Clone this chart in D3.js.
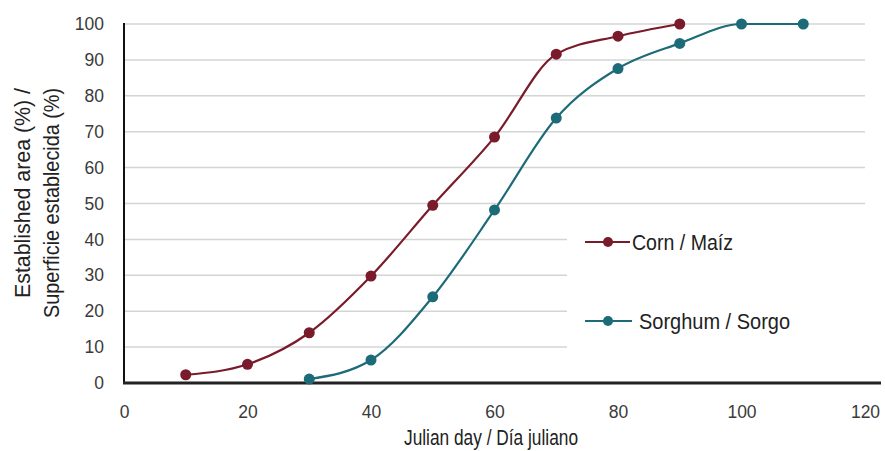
<!DOCTYPE html>
<html>
<head>
<meta charset="utf-8">
<script src="https://cdn.jsdelivr.net/npm/d3@7"></script>
<style>
  body { margin: 0; background: #fff; }
  .tick text { font-family: "Liberation Sans", Arial, sans-serif; font-size: 17.5px; fill: #3a3a3a; }
  .title { font-family: "Liberation Sans", sans-serif; font-size: 22px; fill: #222; }
</style>
</head>
<body>
<svg id="chart"></svg>
<script>
    // data
    var cornDays = [10, 20, 30, 40, 50, 60, 70, 80, 90];
    var cornPct = [2.3, 5.2, 14, 29.8, 49.5, 68.5, 91.6, 96.6, 100];
    var sorghumDays = [30, 40, 50, 60, 70, 80, 90, 100, 110];
    var sorghumPct = [1.1, 6.4, 24, 48.2, 73.8, 87.6, 94.6, 100, 100];
    var xTicks = [0, 20, 40, 60, 80, 100, 120];
    var yTicks = [0, 10, 20, 30, 40, 50, 60, 70, 80, 90, 100];
    var seriesNames = ['Corn / Maíz', 'Sorghum / Sorgo'];
    var colors = ['#7a1b2b', '#1d6b78'];

    var width = 885;
    var height = 451;
    var chart = d3.select('#chart')
      .attr('width', width)
      .attr('height', height);

    var x = d3.scaleLinear().domain([0, 120]).range([124, 865]);
    var y = d3.scaleLinear().domain([0, 100]).range([383, 24]);

    // gridlines
    chart.append('g')
      .selectAll('line')
      .data(yTicks.slice(1))
      .enter().append('line')
      .attr('x1', x(0)).attr('x2', x(120))
      .attr('y1', function(d){ return y(d); })
      .attr('y2', function(d){ return y(d); })
      .attr('stroke', '#d4d4d4')
      .attr('stroke-width', 1.5);

    // legend background hides the grid under it
    chart.append('rect')
      .attr('x', 567).attr('y', 206)
      .attr('width', 318).attr('height', 172)
      .attr('fill', '#fff');

    // axes
    var xAxis = d3.axisBottom(x).tickValues(xTicks).tickSize(0).tickPadding(23);
    chart.append('g')
      .attr('transform', 'translate(0,' + y(0) + ')')
      .call(xAxis)
      .call(function(g){ g.select('.domain').remove(); });

    var yAxis = d3.axisLeft(y).tickValues(yTicks).tickSize(0).tickPadding(20);
    chart.append('g')
      .attr('transform', 'translate(' + x(0) + ',0)')
      .call(yAxis)
      .call(function(g){ g.select('.domain').remove(); });

    chart.append('line')
      .attr('x1', x(0)).attr('x2', x(0))
      .attr('y1', y(100) - 1).attr('y2', y(0))
      .attr('stroke', '#111').attr('stroke-width', 2);
    chart.append('line')
      .attr('x1', x(0) - 1).attr('x2', 881)
      .attr('y1', y(0)).attr('y2', y(0))
      .attr('stroke', '#222').attr('stroke-width', 3);

    // -----------------------------------
    var line = d3.line()
      .x(function(d){ return x(d[0]); })
      .y(function(d){ return y(d[1]); })
      .curve(d3.curveMonotoneX);

    var series = [
      d3.zip(cornDays, cornPct),
      d3.zip(sorghumDays, sorghumPct)
    ];

    series.forEach(function(s, i) {
      chart.append('path')
        .datum(s)
        .attr('d', line)
        .attr('fill', 'none')
        .attr('stroke', colors[i])
        .attr('stroke-width', 2.2);
      chart.append('g')
        .selectAll('circle')
        .data(s)
        .enter().append('circle')
        .attr('cx', function(d){ return x(d[0]); })
        .attr('cy', function(d){ return y(d[1]); })
        .attr('r', 5.5)
        .attr('fill', colors[i]);
    });

    // legend
    var legendY = [242, 321];
    var legendTextX = [632, 639];
    var legendLen = [101, 151];
    seriesNames.forEach(function(name, i) {
      chart.append('line')
        .attr('x1', 585).attr('x2', i ? 632 : 630)
        .attr('y1', legendY[i]).attr('y2', legendY[i])
        .attr('stroke', colors[i]).attr('stroke-width', 2.2);
      chart.append('circle')
        .attr('cx', 608).attr('cy', legendY[i]).attr('r', 5)
        .attr('fill', colors[i]);
      chart.append('text')
        .attr('class', 'title')
        .attr('x', legendTextX[i]).attr('y', legendY[i] + 8)
        .attr('textLength', legendLen[i])
        .attr('lengthAdjust', 'spacingAndGlyphs')
        .text(name);
    });

    // axis titles (condensed look)
    chart.append('text')
      .attr('class', 'title')
      .attr('x', 404).attr('y', 445)
      .attr('textLength', 174)
      .attr('lengthAdjust', 'spacingAndGlyphs')
      .text('Julian day / Día juliano');

    chart.append('text')
      .attr('class', 'title')
      .attr('transform', 'translate(30,298) rotate(-90)')
      .attr('textLength', 210)
      .attr('lengthAdjust', 'spacingAndGlyphs')
      .text('Established area (%) /');
    chart.append('text')
      .attr('class', 'title')
      .attr('transform', 'translate(59,318) rotate(-90)')
      .attr('textLength', 230)
      .attr('lengthAdjust', 'spacingAndGlyphs')
      .text('Superficie establecida (%)');
</script>
</body>
</html>
